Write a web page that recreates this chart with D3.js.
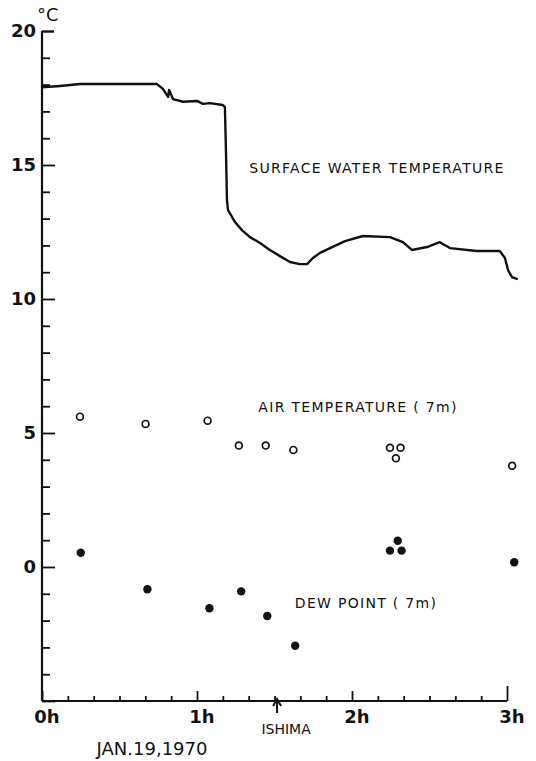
<!DOCTYPE html>
<html><head><meta charset="utf-8">
<script src="https://cdn.jsdelivr.net/npm/d3@7"></script>
<style>
html,body{margin:0;padding:0;background:#fff;}
svg{display:block;}
text{font-family:"DejaVu Sans",sans-serif;fill:#111;}
</style></head><body>
<script>
// Surface water temperature trace: [minutes, °C]
const waterTime = [0,7,14.7,44.5,46.8,47.6,48.8,49.2,50.7,54.6,60,62.3,65,70,70.8,71.2,71.6,72,74.7,77.4,80.5,84.4,88.2,92.1,96,99.8,102.6,104.9,107.6,111.5,117.3,124.2,134.7,139.7,143.2,149,154,157.9,168.3,177.2,179.2,180.4,181.9,183.8];
const waterTemp = [17.9,17.95,18.02,18.02,17.84,17.72,17.54,17.8,17.46,17.36,17.39,17.28,17.31,17.24,17.16,15.56,13.69,13.32,12.87,12.57,12.31,12.09,11.83,11.6,11.38,11.3,11.3,11.53,11.72,11.9,12.16,12.35,12.31,12.12,11.83,11.94,12.12,11.9,11.79,11.79,11.53,11.08,10.82,10.75];
// Air temperature (7 m), open circles
const airTime = [14.7,40.1,64.1,76.2,86.6,97.3,134.7,138.8,137,182];
const airTemp = [5.61,5.34,5.46,4.53,4.53,4.37,4.45,4.45,4.06,3.78];
// Dew point (7 m), filled circles
const dewTime = [15,40.8,64.8,77.1,87.2,98,134.7,139.2,137.7,182.8];
const dewTemp = [0.53,-0.83,-1.54,-0.91,-1.83,-2.94,0.61,0.61,0.98,0.18];
// Axis labels
const yTickValues = [20,15,10,5,0];
const xTickValues = [0,60,120,180];
const xTickLabels = ["0h","1h","2h","3h"];

const W = 536, H = 761;
const svg = d3.select("body").append("svg").attr("width",W).attr("height",H);
const x = d3.scaleLinear().domain([0,180]).range([42,507]);
const y = d3.scaleLinear().domain([-5,20]).range([701,31]);
const ink = "#111";

// Y axis
const yAxis = d3.axisRight(y).tickValues(d3.range(-5,21,1)).tickFormat("").tickSize(0);
const gy = svg.append("g").attr("transform",`translate(${x(0)},0)`).call(yAxis);
gy.select(".domain").remove();
svg.append("line").attr("x1",x(0)).attr("x2",x(0)).attr("y1",y(20)).attr("y2",y(-5))
  .attr("stroke",ink).attr("stroke-width",2.2);
gy.selectAll(".tick").append("line")
  .attr("x2",d=> d===20 ? 12 : (d%5===0 ? 13 : 8))
  .attr("stroke",ink).attr("stroke-width",d=> d===20?2.4:1.8);
yTickValues.forEach(v=>{
  svg.append("text").attr("x",x(0)-6).attr("y",y(v)).attr("dy","0.36em")
    .attr("text-anchor","end").attr("font-size",18).attr("font-weight","bold").text(v);
});
svg.append("text").attr("x",37).attr("y",21).attr("font-size",18).text("°C");

// X axis
svg.append("line").attr("x1",x(0)).attr("x2",x(180)).attr("y1",y(-5)).attr("y2",y(-5))
  .attr("stroke",ink).attr("stroke-width",2.2);
const xAxis = d3.axisTop(x).tickValues(d3.range(0,181,10)).tickFormat("").tickSize(0);
const gx = svg.append("g").attr("transform",`translate(0,${y(-5)})`).call(xAxis);
gx.select(".domain").remove();
gx.selectAll(".tick").append("line")
  .attr("y2",d=> d===180 ? -15 : (d%60===0 ? -10 : -5))
  .attr("stroke",ink).attr("stroke-width",1.8);
xTickValues.forEach((v,i)=>{
  svg.append("text").attr("x",x(v)+5).attr("y",723).attr("text-anchor","middle")
    .attr("font-size",18).attr("font-weight","bold").text(xTickLabels[i]);
});
// ISHIMA marker
const ax = x(91);
svg.append("path").attr("d",`M${ax},713 L${ax},700 M${ax-4},706 L${ax},699 L${ax+4},706`)
  .attr("fill","none").attr("stroke",ink).attr("stroke-width",2);
svg.append("text").attr("x",ax+9).attr("y",734).attr("text-anchor","middle")
  .attr("font-size",14).text("ISHIMA");
svg.append("text").attr("x",152).attr("y",755).attr("text-anchor","middle")
  .attr("font-size",18).text("JAN.19,1970");

// Water temperature line
const water = waterTime.map((t,i)=>[t,waterTemp[i]]);
svg.append("path").datum(water)
  .attr("d",d3.line().x(d=>x(d[0])).y(d=>y(d[1])))
  .attr("fill","none").attr("stroke",ink).attr("stroke-width",2.4)
  .attr("stroke-linejoin","round").attr("stroke-linecap","round");

// Air temperature points
svg.append("g").selectAll("circle").data(airTime.map((t,i)=>[t,airTemp[i]])).join("circle")
  .attr("cx",d=>x(d[0])).attr("cy",d=>y(d[1])).attr("r",3.4)
  .attr("fill","#fff").attr("stroke",ink).attr("stroke-width",1.7);
// Dew point points
svg.append("g").selectAll("circle").data(dewTime.map((t,i)=>[t,dewTemp[i]])).join("circle")
  .attr("cx",d=>x(d[0])).attr("cy",d=>y(d[1])).attr("r",4.2)
  .attr("fill",ink);

// Labels
svg.append("text").attr("x",377).attr("y",173).attr("text-anchor","middle")
  .attr("font-size",14).attr("letter-spacing",1.3).text("SURFACE WATER TEMPERATURE");
svg.append("text").attr("x",358).attr("y",412).attr("text-anchor","middle")
  .attr("font-size",14).attr("letter-spacing",1.3).text("AIR TEMPERATURE ( 7m)");
svg.append("text").attr("x",366).attr("y",608).attr("text-anchor","middle")
  .attr("font-size",14).attr("letter-spacing",1.3).text("DEW POINT ( 7m)");
</script>
</body></html>
